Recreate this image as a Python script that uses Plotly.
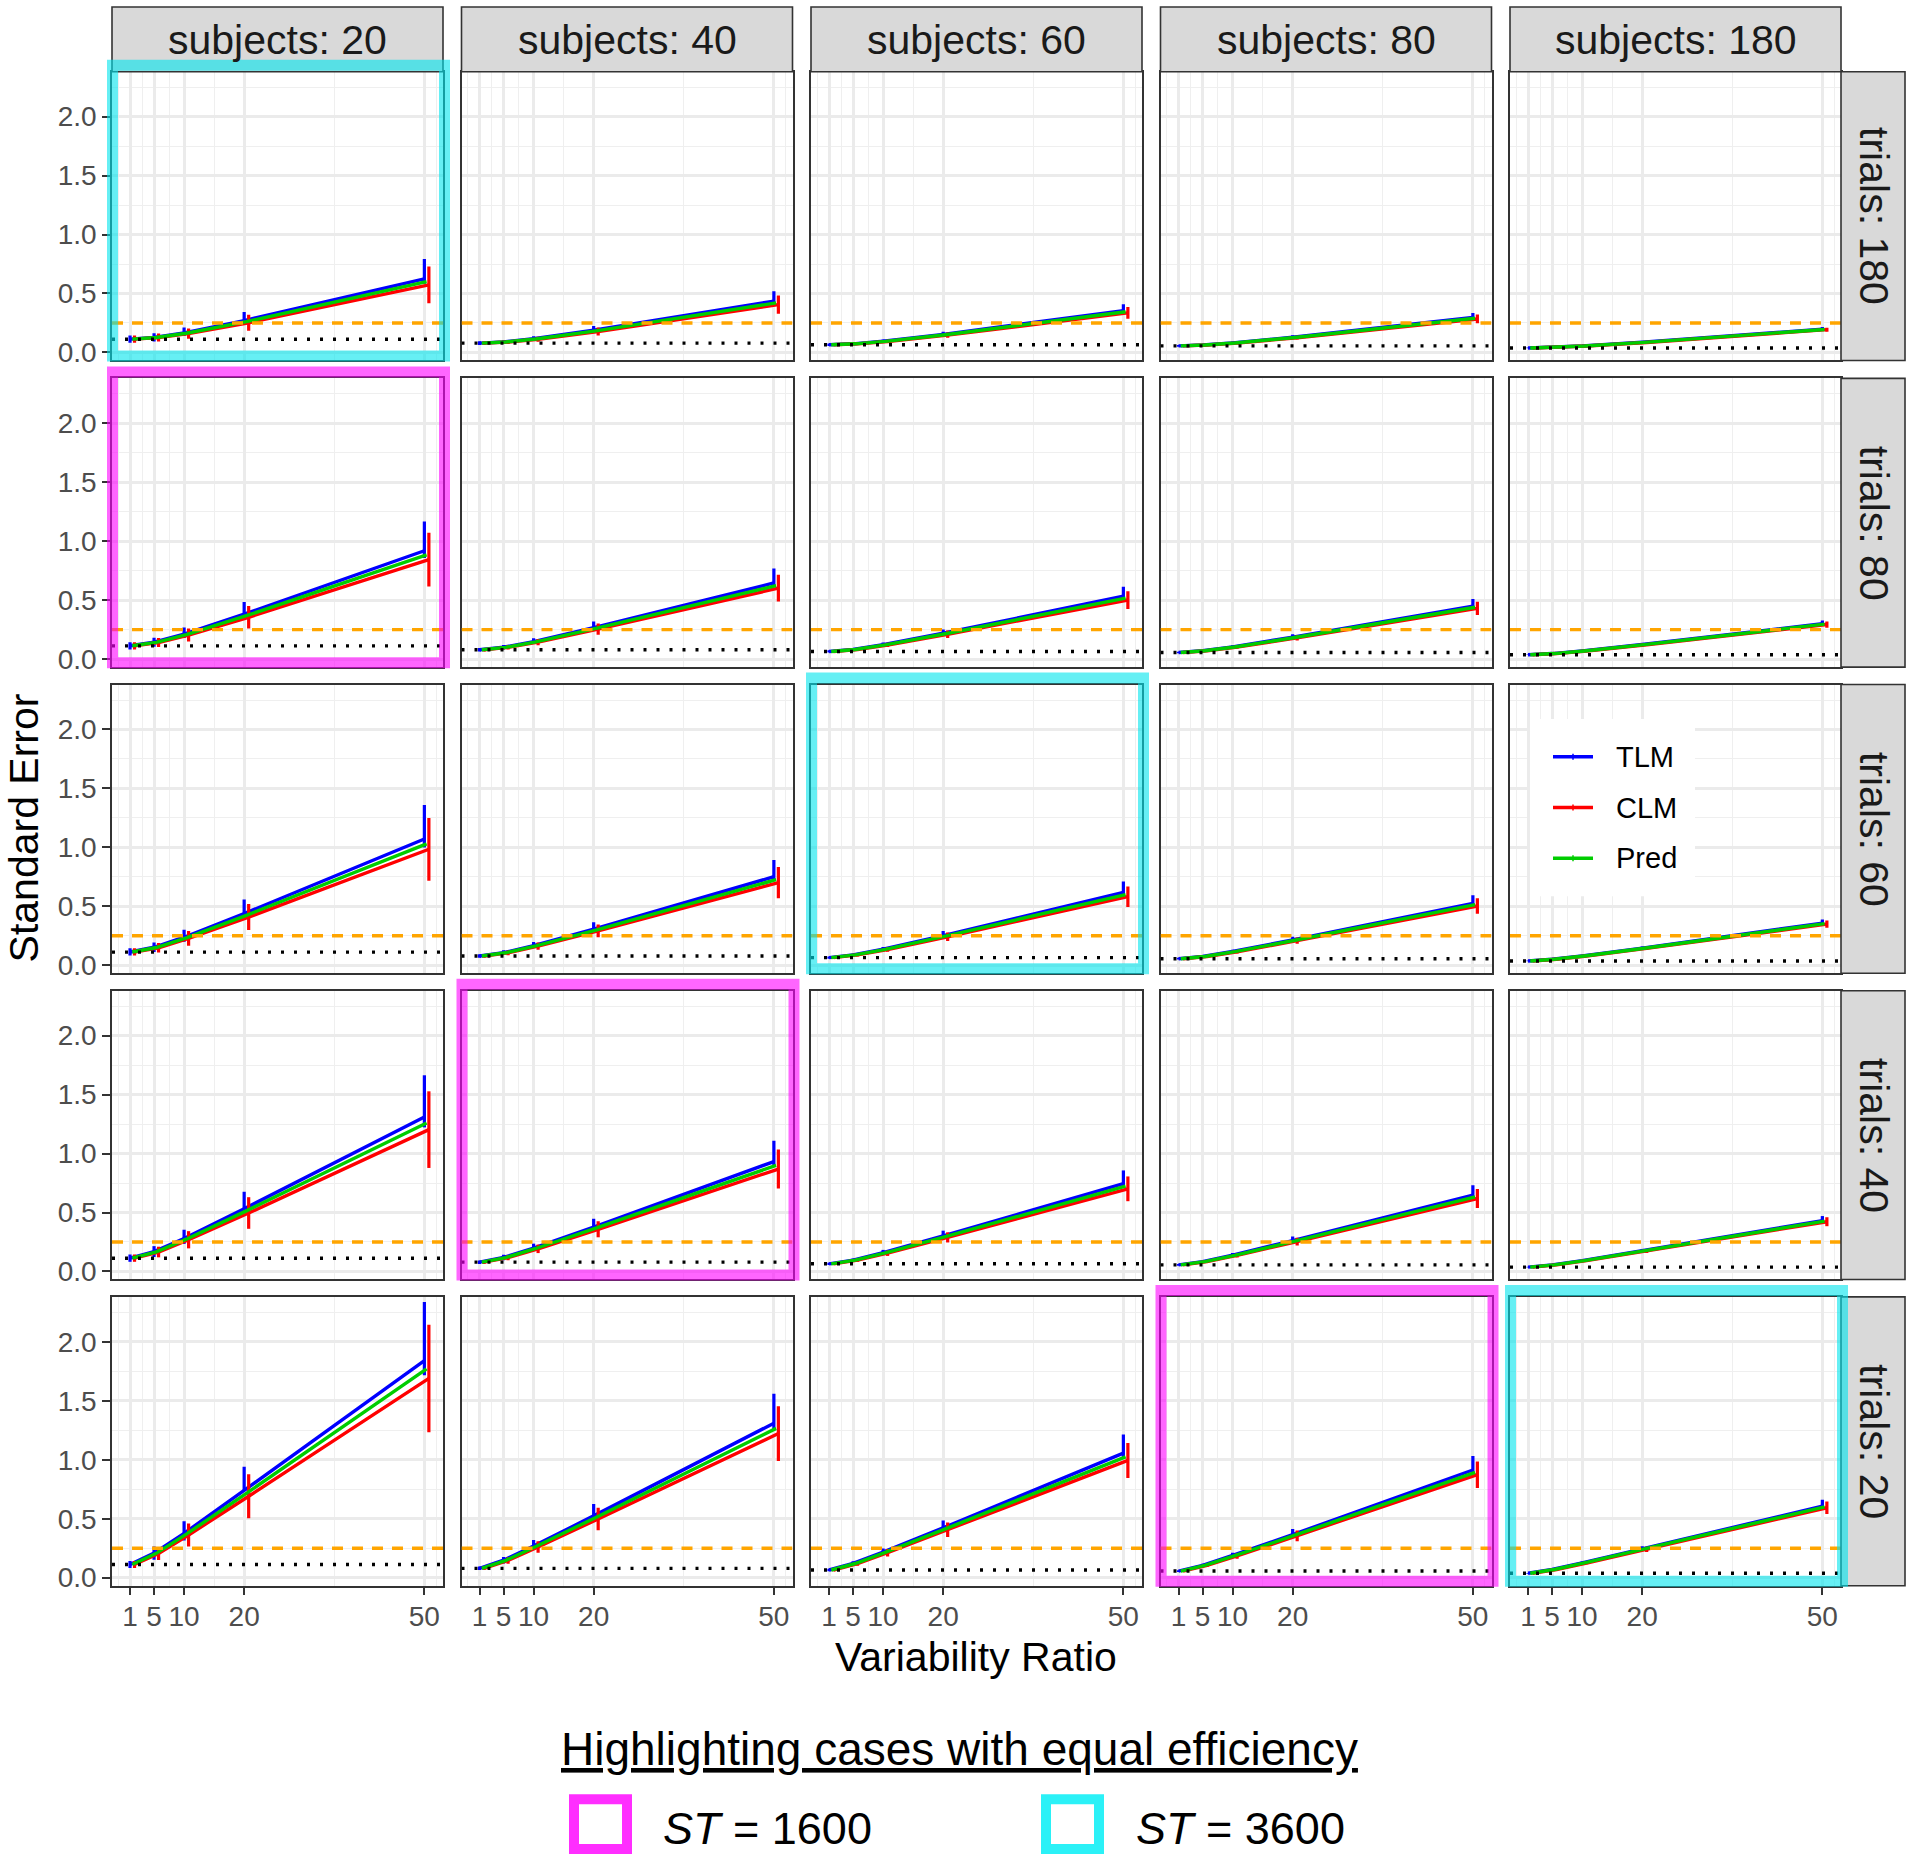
import plotly.graph_objects as go

W, H = 1913, 1867
FONT = "Liberation Sans, Arial, Helvetica, sans-serif"

SUBJECTS = [20, 40, 60, 80, 180]
TRIALS = [180, 80, 60, 40, 20]
VR = [1, 5, 10, 20, 50]
VR_TICKTEXT = ["1", "5", "10", "20", "50"]
Y_TICKS = [0.0, 0.5, 1.0, 1.5, 2.0]
Y_TICKTEXT = ["0.0", "0.5", "1.0", "1.5", "2.0"]
TARGET_SE = 0.25
DOTTED_SE = [0.112, 0.079, 0.065, 0.056, 0.037]   # per subjects column

# ---- trials: 180 (rows = subjects 20, 40, 60, 80, 180; values at VR 1,5,10,20,50)
pred_t180 = [[0.113, 0.127, 0.163, 0.261, 0.600], [0.079, 0.089, 0.114, 0.183, 0.420],
             [0.065, 0.073, 0.094, 0.150, 0.345], [0.056, 0.063, 0.080, 0.127, 0.290],
             [0.038, 0.042, 0.054, 0.085, 0.195]]
tlm_t180 = [[0.113, 0.128, 0.166, 0.270, 0.624], [0.079, 0.089, 0.116, 0.188, 0.435],
            [0.065, 0.073, 0.095, 0.153, 0.355], [0.056, 0.063, 0.081, 0.129, 0.296],
            [0.038, 0.042, 0.054, 0.086, 0.197]]
clm_t180 = [[0.113, 0.126, 0.160, 0.252, 0.573], [0.079, 0.089, 0.112, 0.178, 0.405],
            [0.065, 0.073, 0.093, 0.147, 0.335], [0.056, 0.063, 0.079, 0.125, 0.284],
            [0.038, 0.042, 0.054, 0.084, 0.193]]
clm_err_t180 = [[0.031, 0.034, 0.043, 0.068, 0.155], [0.015, 0.017, 0.021, 0.034, 0.077],
                [0.010, 0.011, 0.014, 0.022, 0.050], [0.007, 0.008, 0.010, 0.016, 0.037],
                [0.003, 0.004, 0.005, 0.008, 0.017]]
tlm_up_t180 = [[0.031, 0.035, 0.045, 0.073, 0.168], [0.015, 0.017, 0.022, 0.036, 0.083],
               [0.010, 0.011, 0.014, 0.023, 0.053], [0.007, 0.008, 0.011, 0.017, 0.038],
               [0.003, 0.004, 0.005, 0.008, 0.018]]
tlm_dn_t180 = [[0.031, 0.035, 0.027, 0.0, 0.042], [0.015, 0.017, 0.013, 0.0, 0.021],
               [0.010, 0.011, 0.008, 0.0, 0.013], [0.007, 0.008, 0.006, 0.0, 0.010],
               [0.003, 0.004, 0.003, 0.0, 0.004]]

# ---- trials: 80
pred_t80 = [[0.113, 0.142, 0.208, 0.368, 0.884], [0.079, 0.100, 0.146, 0.260, 0.624],
            [0.065, 0.082, 0.121, 0.215, 0.517], [0.056, 0.071, 0.103, 0.183, 0.440],
            [0.037, 0.047, 0.069, 0.123, 0.297]]
tlm_t80 = [[0.113, 0.143, 0.212, 0.381, 0.919], [0.079, 0.101, 0.148, 0.267, 0.646],
           [0.065, 0.082, 0.122, 0.219, 0.533], [0.056, 0.071, 0.104, 0.186, 0.450],
           [0.037, 0.047, 0.069, 0.124, 0.300]]
clm_t80 = [[0.113, 0.141, 0.204, 0.355, 0.844], [0.079, 0.100, 0.144, 0.254, 0.602],
           [0.065, 0.082, 0.120, 0.211, 0.501], [0.056, 0.071, 0.102, 0.180, 0.430],
           [0.037, 0.047, 0.069, 0.122, 0.293]]
clm_err_t80 = [[0.031, 0.038, 0.055, 0.096, 0.228], [0.015, 0.019, 0.027, 0.048, 0.114],
               [0.010, 0.012, 0.018, 0.032, 0.075], [0.007, 0.009, 0.013, 0.023, 0.056],
               [0.003, 0.004, 0.006, 0.011, 0.026]]
tlm_up_t80 = [[0.031, 0.039, 0.057, 0.103, 0.248], [0.015, 0.019, 0.028, 0.051, 0.123],
              [0.010, 0.012, 0.018, 0.033, 0.080], [0.007, 0.009, 0.014, 0.024, 0.059],
              [0.003, 0.004, 0.006, 0.011, 0.027]]
tlm_dn_t80 = [[0.031, 0.039, 0.034, 0.0, 0.062], [0.015, 0.019, 0.017, 0.0, 0.031],
              [0.010, 0.012, 0.011, 0.0, 0.020], [0.007, 0.009, 0.008, 0.0, 0.015],
              [0.003, 0.004, 0.004, 0.0, 0.007]]

# ---- trials: 60
pred_t60 = [[0.113, 0.151, 0.233, 0.424, 1.030], [0.079, 0.106, 0.164, 0.299, 0.726],
            [0.065, 0.088, 0.135, 0.247, 0.600], [0.056, 0.075, 0.116, 0.212, 0.514],
            [0.037, 0.051, 0.079, 0.145, 0.353]]
tlm_t60 = [[0.113, 0.153, 0.238, 0.439, 1.071], [0.079, 0.107, 0.166, 0.306, 0.751],
           [0.065, 0.088, 0.136, 0.252, 0.618], [0.056, 0.075, 0.117, 0.215, 0.525],
           [0.037, 0.051, 0.079, 0.146, 0.357]]
clm_t60 = [[0.113, 0.149, 0.228, 0.409, 0.984], [0.079, 0.105, 0.162, 0.292, 0.701],
           [0.065, 0.088, 0.134, 0.242, 0.582], [0.056, 0.075, 0.115, 0.209, 0.503],
           [0.037, 0.051, 0.079, 0.144, 0.349]]
clm_err_t60 = [[0.031, 0.040, 0.062, 0.110, 0.266], [0.015, 0.020, 0.031, 0.055, 0.133],
               [0.010, 0.013, 0.020, 0.036, 0.087], [0.007, 0.010, 0.015, 0.027, 0.065],
               [0.003, 0.005, 0.007, 0.013, 0.031]]
tlm_up_t60 = [[0.031, 0.041, 0.064, 0.119, 0.289], [0.015, 0.020, 0.032, 0.058, 0.143],
              [0.010, 0.013, 0.020, 0.038, 0.093], [0.007, 0.010, 0.015, 0.028, 0.068],
              [0.003, 0.005, 0.007, 0.013, 0.032]]
tlm_dn_t60 = [[0.031, 0.041, 0.039, 0.0, 0.072], [0.015, 0.020, 0.019, 0.0, 0.036],
              [0.010, 0.013, 0.012, 0.0, 0.023], [0.007, 0.010, 0.009, 0.0, 0.017],
              [0.003, 0.005, 0.004, 0.0, 0.008]]

# ---- trials: 40
pred_t40 = [[0.113, 0.167, 0.274, 0.514, 1.260], [0.079, 0.118, 0.195, 0.367, 0.900],
            [0.065, 0.096, 0.157, 0.295, 0.723], [0.056, 0.083, 0.137, 0.258, 0.633],
            [0.037, 0.056, 0.092, 0.174, 0.427]]
tlm_t40 = [[0.113, 0.169, 0.279, 0.532, 1.310], [0.079, 0.119, 0.198, 0.376, 0.932],
           [0.065, 0.096, 0.159, 0.301, 0.745], [0.056, 0.083, 0.138, 0.262, 0.647],
           [0.037, 0.056, 0.092, 0.175, 0.431]]
clm_t40 = [[0.113, 0.165, 0.269, 0.496, 1.203], [0.079, 0.117, 0.192, 0.358, 0.869],
           [0.065, 0.096, 0.155, 0.289, 0.701], [0.056, 0.083, 0.136, 0.254, 0.619],
           [0.037, 0.056, 0.092, 0.173, 0.422]]
clm_err_t40 = [[0.031, 0.045, 0.073, 0.134, 0.325], [0.015, 0.022, 0.036, 0.068, 0.165],
               [0.010, 0.014, 0.023, 0.043, 0.105], [0.007, 0.011, 0.018, 0.033, 0.080],
               [0.003, 0.005, 0.008, 0.016, 0.038]]
tlm_up_t40 = [[0.031, 0.046, 0.075, 0.144, 0.354], [0.015, 0.023, 0.038, 0.071, 0.177],
              [0.010, 0.014, 0.024, 0.045, 0.112], [0.007, 0.011, 0.018, 0.034, 0.084],
              [0.003, 0.005, 0.008, 0.016, 0.039]]
tlm_dn_t40 = [[0.031, 0.046, 0.045, 0.0, 0.088], [0.015, 0.023, 0.023, 0.0, 0.044],
              [0.010, 0.014, 0.014, 0.0, 0.028], [0.007, 0.011, 0.011, 0.0, 0.021],
              [0.003, 0.005, 0.005, 0.0, 0.010]]

# ---- trials: 20
pred_t20 = [[0.112, 0.206, 0.369, 0.715, 1.770], [0.079, 0.147, 0.264, 0.511, 1.266],
            [0.065, 0.120, 0.214, 0.414, 1.025], [0.056, 0.104, 0.186, 0.360, 0.893],
            [0.037, 0.069, 0.125, 0.242, 0.600]]
tlm_t20 = [[0.112, 0.208, 0.376, 0.740, 1.841], [0.079, 0.148, 0.268, 0.524, 1.310],
           [0.065, 0.121, 0.216, 0.422, 1.056], [0.056, 0.104, 0.188, 0.365, 0.913],
           [0.037, 0.069, 0.126, 0.244, 0.606]]
clm_t20 = [[0.112, 0.204, 0.362, 0.690, 1.690], [0.079, 0.146, 0.260, 0.498, 1.222],
           [0.065, 0.119, 0.212, 0.406, 0.994], [0.056, 0.104, 0.184, 0.355, 0.873],
           [0.037, 0.069, 0.124, 0.240, 0.593]]
clm_err_t20 = [[0.030, 0.055, 0.098, 0.186, 0.456], [0.015, 0.028, 0.049, 0.095, 0.232],
               [0.010, 0.018, 0.032, 0.061, 0.149], [0.007, 0.014, 0.024, 0.046, 0.113],
               [0.003, 0.006, 0.011, 0.022, 0.053]]
tlm_up_t20 = [[0.030, 0.056, 0.102, 0.200, 0.497], [0.015, 0.028, 0.051, 0.100, 0.249],
              [0.010, 0.018, 0.032, 0.063, 0.158], [0.007, 0.014, 0.024, 0.047, 0.119],
              [0.003, 0.006, 0.011, 0.022, 0.055]]
tlm_dn_t20 = [[0.030, 0.056, 0.061, 0.0, 0.124], [0.015, 0.028, 0.031, 0.0, 0.062],
              [0.010, 0.018, 0.019, 0.0, 0.040], [0.007, 0.014, 0.015, 0.0, 0.030],
              [0.003, 0.006, 0.007, 0.0, 0.014]]

PRED = [pred_t180, pred_t80, pred_t60, pred_t40, pred_t20]
TLM = [tlm_t180, tlm_t80, tlm_t60, tlm_t40, tlm_t20]
CLM = [clm_t180, clm_t80, clm_t60, clm_t40, clm_t20]
CLM_ERR = [clm_err_t180, clm_err_t80, clm_err_t60, clm_err_t40, clm_err_t20]
TLM_UP = [tlm_up_t180, tlm_up_t80, tlm_up_t60, tlm_up_t40, tlm_up_t20]
TLM_DN = [tlm_dn_t180, tlm_dn_t80, tlm_dn_t60, tlm_dn_t40, tlm_dn_t20]

# equal-efficiency highlights: (trials, subjects)
HIGHLIGHT_1600 = [(80, 20), (40, 40), (20, 80)]
HIGHLIGHT_3600 = [(180, 20), (60, 60), (20, 180)]

SERIES_COLORS = {"TLM": "#0000FF", "CLM": "#FF0000", "Pred": "#00CD00"}
DODGE = {"TLM": 0.0, "Pred": 0.37, "CLM": 0.75}

# ---- layout geometry (pixels)
COL_L = [112, 461.5, 811, 1160.5, 1510]
COL_W = 331
ROW_T = [72, 380, 687.5, 995, 1302.5]
ROW_H = 290
STRIP_TOP = 7
STRIP_R = (1841, 1905)
X_RANGE = [-2.0, 53.1]


def xf(px):
    return px / W


def yf(py):
    return 1 - py / H


fig = go.Figure()
layout = dict(
    width=W, height=H, autosize=False,
    margin=dict(l=0, r=0, t=0, b=0),
    paper_bgcolor="white", plot_bgcolor="white",
    showlegend=False, font=dict(family=FONT),
)
shapes = []
annotations = []

for r, trials in enumerate(TRIALS):
    for c, subj in enumerate(SUBJECTS):
        i = r * 5 + c + 1
        xa = "x" if i == 1 else f"x{i}"
        ya = "y" if i == 1 else f"y{i}"
        xkey = "xaxis" if i == 1 else f"xaxis{i}"
        ykey = "yaxis" if i == 1 else f"yaxis{i}"
        L, R = COL_L[c], COL_L[c] + COL_W
        T, B = ROW_T[r], ROW_T[r] + ROW_H
        bottom = r == len(TRIALS) - 1
        left = c == 0
        layout[xkey] = dict(
            domain=[xf(L), xf(R)], anchor=ya, range=X_RANGE,
            tickvals=VR, ticktext=VR_TICKTEXT, showticklabels=bottom,
            ticks="outside" if bottom else "", ticklen=8, tickwidth=2, tickcolor="#333333",
            ticklabelstandoff=-3,
            tickfont=dict(size=28, color="#4D4D4D", family=FONT),
            showgrid=True, gridcolor="#EBEBEB", gridwidth=2.6,
            minor=dict(tickvals=[-1, 3, 7.5, 15, 35, 52], showgrid=True,
                       gridcolor="#EFEFEF", gridwidth=1.3, ticks=""),
            zeroline=False, showline=True, mirror=True, linecolor="#333333", linewidth=1.6,
            fixedrange=True,
        )
        layout[ykey] = dict(
            domain=[yf(B), yf(T)], anchor=xa, range=[-0.068, 2.381],
            tickvals=Y_TICKS, ticktext=Y_TICKTEXT, showticklabels=left,
            ticks="outside" if left else "", ticklen=8, tickwidth=2, tickcolor="#333333",
            tickfont=dict(size=28, color="#4D4D4D", family=FONT),
            showgrid=True, gridcolor="#EBEBEB", gridwidth=2.6,
            minor=dict(tickvals=[0.25, 0.75, 1.25, 1.75, 2.25], showgrid=True,
                       gridcolor="#EFEFEF", gridwidth=1.3, ticks=""),
            zeroline=False, showline=True, mirror=True, linecolor="#333333", linewidth=1.6,
            fixedrange=True,
        )

        # series
        series = [
            ("TLM", TLM[r][c], dict(type="data", symmetric=False, array=TLM_UP[r][c],
                                    arrayminus=TLM_DN[r][c])),
            ("CLM", CLM[r][c], dict(type="data", symmetric=True, array=CLM_ERR[r][c])),
            ("Pred", PRED[r][c], None),
        ]
        for name, vals, err in series:
            tr = dict(
                x=[v + DODGE[name] for v in VR], y=vals, mode="lines", name=name,
                xaxis=xa, yaxis=ya, line=dict(color=SERIES_COLORS[name], width=3.4),
                hoverinfo="skip",
            )
            if err is not None:
                err.update(color=SERIES_COLORS[name], thickness=3.2, width=0, visible=True)
                tr["error_y"] = err
            fig.add_trace(go.Scatter(**tr))

        # reference lines (drawn over the grid)
        shapes.append(dict(type="line", xref=xa, yref=ya, x0=X_RANGE[0], x1=X_RANGE[1],
                           y0=TARGET_SE, y1=TARGET_SE, layer="above",
                           line=dict(color="#FFA500", width=3.4, dash="11px,9px")))
        shapes.append(dict(type="line", xref=xa, yref=ya, x0=X_RANGE[0], x1=X_RANGE[1],
                           y0=DOTTED_SE[c], y1=DOTTED_SE[c], layer="above",
                           line=dict(color="black", width=3.4, dash="3px,10px")))

        # strips
        if r == 0:
            shapes.append(dict(type="rect", xref="paper", yref="paper",
                               x0=xf(L), x1=xf(R), y0=yf(T), y1=yf(STRIP_TOP),
                               fillcolor="#D9D9D9", line=dict(color="#333333", width=1.6),
                               layer="above"))
            annotations.append(dict(text=f"subjects: {subj}", xref="paper", yref="paper",
                                    x=xf((L + R) / 2), y=yf((T + STRIP_TOP) / 2 + 1),
                                    showarrow=False, xanchor="center", yanchor="middle",
                                    font=dict(size=41, color="#1A1A1A", family=FONT)))
        if c == len(SUBJECTS) - 1:
            shapes.append(dict(type="rect", xref="paper", yref="paper",
                               x0=xf(STRIP_R[0]), x1=xf(STRIP_R[1]), y0=yf(B), y1=yf(T),
                               fillcolor="#D9D9D9", line=dict(color="#333333", width=1.6),
                               layer="above"))
            annotations.append(dict(text=f"trials: {trials}", xref="paper", yref="paper",
                                    x=xf((STRIP_R[0] + STRIP_R[1]) / 2 + 1), y=yf((T + B) / 2),
                                    showarrow=False, textangle=90,
                                    xanchor="center", yanchor="middle",
                                    font=dict(size=41, color="#1A1A1A", family=FONT)))


# highlight frames
def frame(trials, subj, color):
    r = TRIALS.index(trials)
    c = SUBJECTS.index(subj)
    L, R = COL_L[c], COL_L[c] + COL_W
    T, B = ROW_T[r], ROW_T[r] + ROW_H
    lw = 11
    x0, x1 = L - 5 + lw / 2, R + 7 - lw / 2
    y0, y1 = T - 12 + lw / 2, B + 1 - lw / 2
    return dict(type="rect", xref="paper", yref="paper",
                x0=xf(x0), x1=xf(x1), y0=yf(y1), y1=yf(y0),
                line=dict(color=color, width=lw), layer="above")


for t, s in HIGHLIGHT_1600:
    shapes.append(frame(t, s, "rgba(255,0,255,0.6)"))
for t, s in HIGHLIGHT_3600:
    shapes.append(frame(t, s, "rgba(0,228,236,0.6)"))

# in-panel legend (trials 60, subjects 180)
shapes.append(dict(type="rect", xref="paper", yref="paper",
                   x0=xf(1530), x1=xf(1695), y0=yf(900), y1=yf(722),
                   fillcolor="white", line=dict(width=0), layer="above"))
for k, name in enumerate(["TLM", "CLM", "Pred"]):
    yy = 760 + 51 * k
    shapes.append(dict(type="line", xref="paper", yref="paper",
                       x0=xf(1553), x1=xf(1593), y0=yf(yy), y1=yf(yy),
                       line=dict(color=SERIES_COLORS[name], width=3.6), layer="above"))
    shapes.append(dict(type="line", xref="paper", yref="paper",
                       x0=xf(1573), x1=xf(1573), y0=yf(yy - 3), y1=yf(yy + 3),
                       line=dict(color=SERIES_COLORS[name], width=1.5), layer="above"))
    annotations.append(dict(text=name, xref="paper", yref="paper", x=xf(1614), y=yf(yy),
                            showarrow=False, xanchor="left", yanchor="middle",
                            font=dict(size=29, color="black", family=FONT)))

# axis titles
annotations.append(dict(text="Standard Error", xref="paper", yref="paper",
                        x=xf(24), y=yf(832), showarrow=False, textangle=-90,
                        xanchor="center", yanchor="middle",
                        font=dict(size=41, color="black", family=FONT)))
annotations.append(dict(text="Variability Ratio", xref="paper", yref="paper",
                        x=xf(976), y=yf(1664), showarrow=False,
                        xanchor="center", yanchor="middle",
                        font=dict(size=41, color="black", family=FONT)))

# bottom highlight legend
annotations.append(dict(text="<u>Highlighting cases with equal efficiency</u>",
                        xref="paper", yref="paper", x=xf(960), y=yf(1757), showarrow=False,
                        xanchor="center", yanchor="middle",
                        font=dict(size=46, color="black", family=FONT)))
LEG_ITEMS = [("1600", "#FF2EFF", 569, 661), ("3600", "#2BF1F7", 1041, 1134)]
for label, col, sx, tx in LEG_ITEMS:
    lw = 10
    shapes.append(dict(type="rect", xref="paper", yref="paper",
                       x0=xf(sx + lw / 2), x1=xf(sx + 63 - lw / 2),
                       y0=yf(1862 - lw / 2), y1=yf(1802 + lw / 2),
                       line=dict(color=col, width=lw), fillcolor="white", layer="above"))
    annotations.append(dict(text=f"<i>ST</i> = {label}", xref="paper", yref="paper",
                            x=xf(tx), y=yf(1836), showarrow=False,
                            xanchor="left", yanchor="middle",
                            font=dict(size=45, color="black", family=FONT)))

layout["shapes"] = shapes
layout["annotations"] = annotations
fig.update_layout(**layout)
fig.write_html(
    "out.html",
    config={"displayModeBar": False},
    post_script="document.body.style.margin='0px';document.body.style.overflow='hidden';",
)
